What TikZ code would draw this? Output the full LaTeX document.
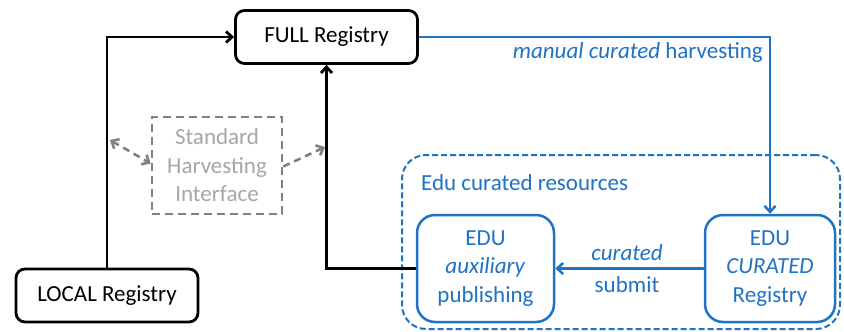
\documentclass[tikz,border=0pt]{standalone}
\usepackage{fontspec}
\setmainfont{Carlito}
\usetikzlibrary{arrows.meta,positioning}
\definecolor{eblue}{HTML}{1F72C4}
\definecolor{egray}{HTML}{808080}
\definecolor{tgray}{HTML}{A6A6A6}
\tikzset{
  box/.style={draw=black, line width=2.8pt, rounded corners=9pt, align=center, inner sep=0pt, font=\fontsize{23}{28.5}\selectfont},
  bbox/.style={draw=eblue, text=eblue, line width=2.5pt, rounded corners=18pt, align=center, inner sep=0pt, font=\fontsize{23}{28.5}\selectfont},
  gbox/.style={draw=egray, text=tgray, line width=2.6pt, dash pattern=on 8pt off 5pt, align=center, inner sep=0pt, font=\fontsize{23}{28.5}\selectfont},
  tip/.style={-{Straight Barb[length=6pt,width=11pt]}},
  blk/.style={line width=2.8pt, black},
  bln/.style={line width=2.5pt, eblue},
  lbl/.style={text=eblue, inner sep=0pt, font=\fontsize{23}{28.5}\selectfont},
}
\begin{document}
\begin{tikzpicture}[x=1pt,y=-1pt]
\useasboundingbox (0,0) rectangle (844,332);
\node[draw=eblue, line width=2pt, dash pattern=on 6pt off 3pt, rounded corners=24pt, minimum width=438pt, minimum height=174pt, inner sep=0pt] (cont) at (621,242) {};
\node[lbl, anchor=west] (contlbl) at (421,183) {Edu curated resources};
\node[box, minimum width=182pt, minimum height=53pt] (full) at (326.5,37) {FULL Registry};
\node[box, minimum width=182pt, minimum height=53pt] (local) at (107,295.5) {LOCAL Registry};
\node[gbox, minimum width=130pt, minimum height=97pt] (shi) at (217,165.5) {Standard\\Harvesting\\Interface};
\node[bbox, minimum width=137pt, minimum height=107pt] (aux) at (485.5,268.5) {EDU\\\textit{auxiliary}\\publishing};
\node[bbox, minimum width=130pt, minimum height=107pt] (cur) at (770,268.5) {EDU\\\textit{CURATED}\\Registry};
\coordinate (la) at (110,140);
\coordinate (ra) at (325,147);
\draw[blk, tip] (local.north) |- (full.west);
\draw[blk, tip] (aux.west) -| (full.south);
\draw[bln, tip] (full.east) -| (cur.north);
\draw[bln, tip] (cur.west) -- (aux.east);
\draw[egray, line width=2.6pt, dash pattern=on 7pt off 5pt, {Straight Barb[length=6pt,width=11pt]}-{Straight Barb[length=6pt,width=11pt]}] (la) -- ([yshift=2pt]shi.west);
\draw[egray, line width=2.6pt, dash pattern=on 7pt off 5pt, tip] ([yshift=-1pt]shi.east) -- (ra);
\node[lbl, anchor=east] (mch) at (763,52) {\textit{manual curated} harvesting};
\node[lbl] (cl) at (627,253) {\textit{curated}};
\node[lbl] (sl) at (627,285) {submit};
\end{tikzpicture}
\end{document}
